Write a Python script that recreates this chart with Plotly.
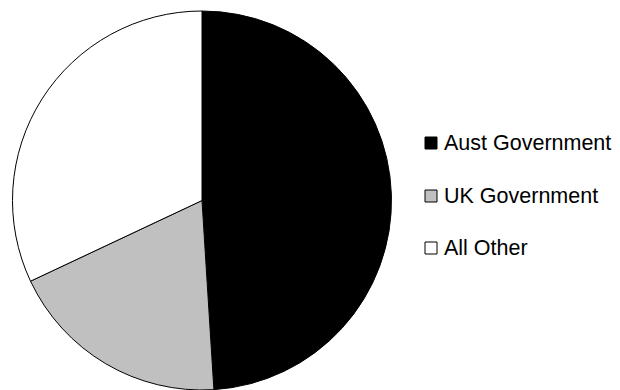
import plotly.graph_objects as go

# Funding share by source (percent)
labels = ["Aust Government", "UK Government", "All Other"]
values = [49, 19, 32]
colors = ["#000000", "#C0C0C0", "#FFFFFF"]

W, H = 620, 390
FONT = "Liberation Sans, Arial, sans-serif"

fig = go.Figure(
    go.Pie(
        labels=labels,
        values=values,
        sort=False,
        direction="clockwise",
        rotation=0,
        textinfo="none",
        hoverinfo="label+percent",
        marker=dict(colors=colors, line=dict(color="#000000", width=1)),
        domain=dict(x=[11 / W, 393 / W], y=[0, 379 / H]),
        showlegend=False,
    )
)

# Legend drawn as swatches + text, one row per category
row_y = [143, 196, 248]
sw = 12
shapes, annotations = [], []
for lab, col, yc in zip(labels, colors, row_y):
    shapes.append(dict(
        type="rect", xref="paper", yref="paper",
        x0=425 / W, x1=(425 + sw) / W,
        y0=1 - (yc + sw / 2) / H, y1=1 - (yc - sw / 2) / H,
        fillcolor=col, line=dict(color="#000000", width=1),
    ))
    annotations.append(dict(
        text=lab, xref="paper", yref="paper",
        x=442 / W, y=1 - yc / H, xanchor="left", yanchor="middle",
        showarrow=False, font=dict(family=FONT, size=21.5, color="#000000"),
    ))

fig.update_layout(
    width=W, height=H,
    margin=dict(l=0, r=0, t=0, b=0),
    paper_bgcolor="#FFFFFF", plot_bgcolor="#FFFFFF",
    shapes=shapes, annotations=annotations,
    font=dict(family=FONT),
)

fig.write_html("out.html")
